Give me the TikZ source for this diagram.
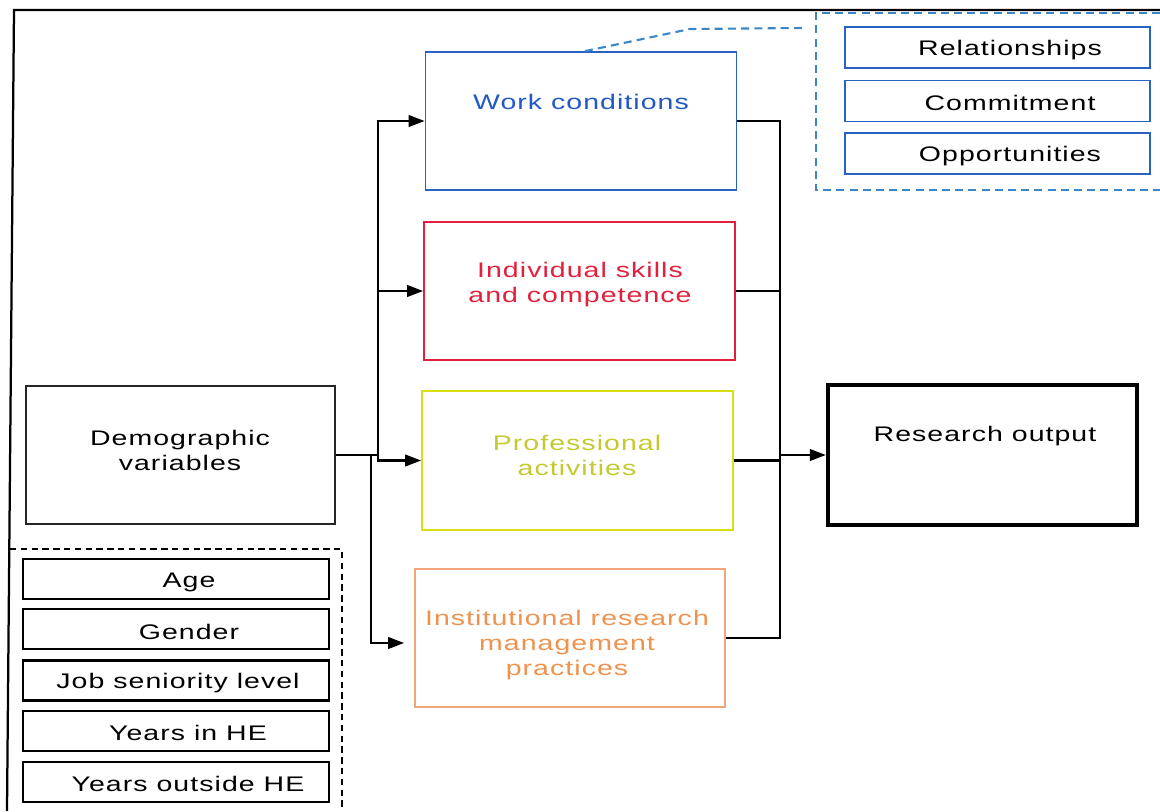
\documentclass[tikz,border=0pt]{standalone}
\usepackage{fontspec}
\setmainfont{Liberation Sans}[FakeStretch=1.35,LetterSpace=5]
\usetikzlibrary{arrows.meta,calc}

\definecolor{wcblue}{HTML}{2A62C4}
\definecolor{wctext}{HTML}{2258C6}
\definecolor{grpblue}{HTML}{3A86C6}
\definecolor{skred}{HTML}{E3203C}
\definecolor{payellow}{HTML}{D8DE10}
\definecolor{patext}{HTML}{C2CA30}
\definecolor{irmorange}{HTML}{F2A47C}
\definecolor{irmtext}{HTML}{F0924E}

\tikzset{
  box/.style={draw, rectangle, inner sep=0pt, line width=1.2pt,
    minimum width=#1},
  factor/.style={box=77.75mm, minimum height=34.5mm},
  item/.style={draw=black, rectangle, inner sep=0pt, line width=1.5pt,
    minimum width=76.5mm, minimum height=10mm},
  subitem/.style={draw=wcblue, rectangle, inner sep=0pt, line width=1.4pt,
    minimum width=76.25mm, minimum height=10.25mm},
  txt/.style={inner sep=0pt, align=center, font=\fontsize{15}{17.8}\selectfont},
  link/.style={line width=1.5pt, line join=miter},
  arr/.style={link, -{Triangle[length=4mm,width=2.9mm]}},
  grpline/.style={grpblue, line width=1.5pt, dash pattern=on 2mm off 1.3mm},
}

\begin{document}
\begin{tikzpicture}[x=0.025cm, y=-0.025cm]
\useasboundingbox (0,0) rectangle (1160,811);

% outer frame
\draw[line width=1.6pt] (7,811) -- (14,10) -- (1160,10);

% work conditions group
\draw[grpline] (1160,13) -- (816,13) -- (816,190) -- (1160,190);
\coordinate (grp) at (802,28);
\node[subitem] (rel) at (997.5,47.5) {};
\node[subitem] (com) at (997.5,101) {};
\node[subitem] (opp) at (997.5,153.5) {};
\node[txt] (rel-t) at (1010,50) {Relationships};
\node[txt] (com-t) at (1010,103) {Commitment};
\node[txt] (opp-t) at (1010,156) {Opportunities};

% factor boxes
\node[factor, draw=wcblue] (wc) at (581,121) {};
\node[txt, text=wctext] (wc-t) at (581,102) {Work conditions};

\node[factor, draw=skred] (isc) at (579.5,291) {};
\node[txt, text=skred] (isc-t) at (580,285) {Individual skills\\and competence};

\node[factor, draw=payellow, minimum height=34.75mm] (pa) at (577.5,460.5) {};
\node[txt, text=patext] (pa-t) at (577,455) {Professional\\activities};

\node[factor, draw=irmorange, minimum width=77.5mm] (irm) at (570,638) {};
\node[txt, text=irmtext] (irm-t) at (567,645) {Institutional research\\management\\practices};

% demographic variables
\node[box=77.25mm, draw=black!85, minimum height=34.5mm] (demo) at (180.5,455) {};
\node[txt] (demo-t) at (180,450) {Demographic\\variables};

\draw[line width=1.4pt, dash pattern=on 1.6mm off 1.1mm] (10,549) -- (342,549) -- (342,811);
\node[item] (age) at (176,579) {};
\node[item] (gen) at (176,629) {};
\node[item] (job) at (176,680.5) {};
\node[item] (yin) at (176,731) {};
\node[item] (yout) at (176,782) {};
\node[txt] (age-t) at (189,582) {Age};
\node[txt] (gen-t) at (189,632) {Gender};
\node[txt] (job-t) at (178,683) {Job seniority level};
\node[txt] (yin-t) at (188,733) {Years in HE};
\node[txt] (yout-t) at (188,784) {Years outside HE};

% research output
\node[draw=black, rectangle, inner sep=0pt, line width=3pt,
      minimum width=77.25mm, minimum height=35mm] (ro) at (982.5,455) {};
\node[txt] (ro-t) at (985,436) {Research output};

% connectors on the input side
\coordinate (j1) at (378,455);
\coordinate (j2) at (371,455);
\draw[link] (demo.east) -- (j1);
\draw[arr] (j1) |- (wc.west);
\draw[arr] (j1) |- (isc.west);
\draw[arr] (j1) |- (pa.west);
\draw[arr, shorten >=2.5mm] (j2) |- ($(irm.west)+(0,5)$);

% connectors on the output side
\coordinate (j3) at (780,455);
\draw[link] (wc.east) -| (j3);
\draw[link] (isc.east) -| (j3);
\draw[link] (pa.east) -| (j3);
\draw[link] (irm.east) -| (j3);
\draw[arr] (j3) -- (ro.west);

% link from work conditions to its group
\draw[grpline] ($(wc.north)+(4,0)$) -- (690,29) -- (grp);
\end{tikzpicture}
\end{document}
